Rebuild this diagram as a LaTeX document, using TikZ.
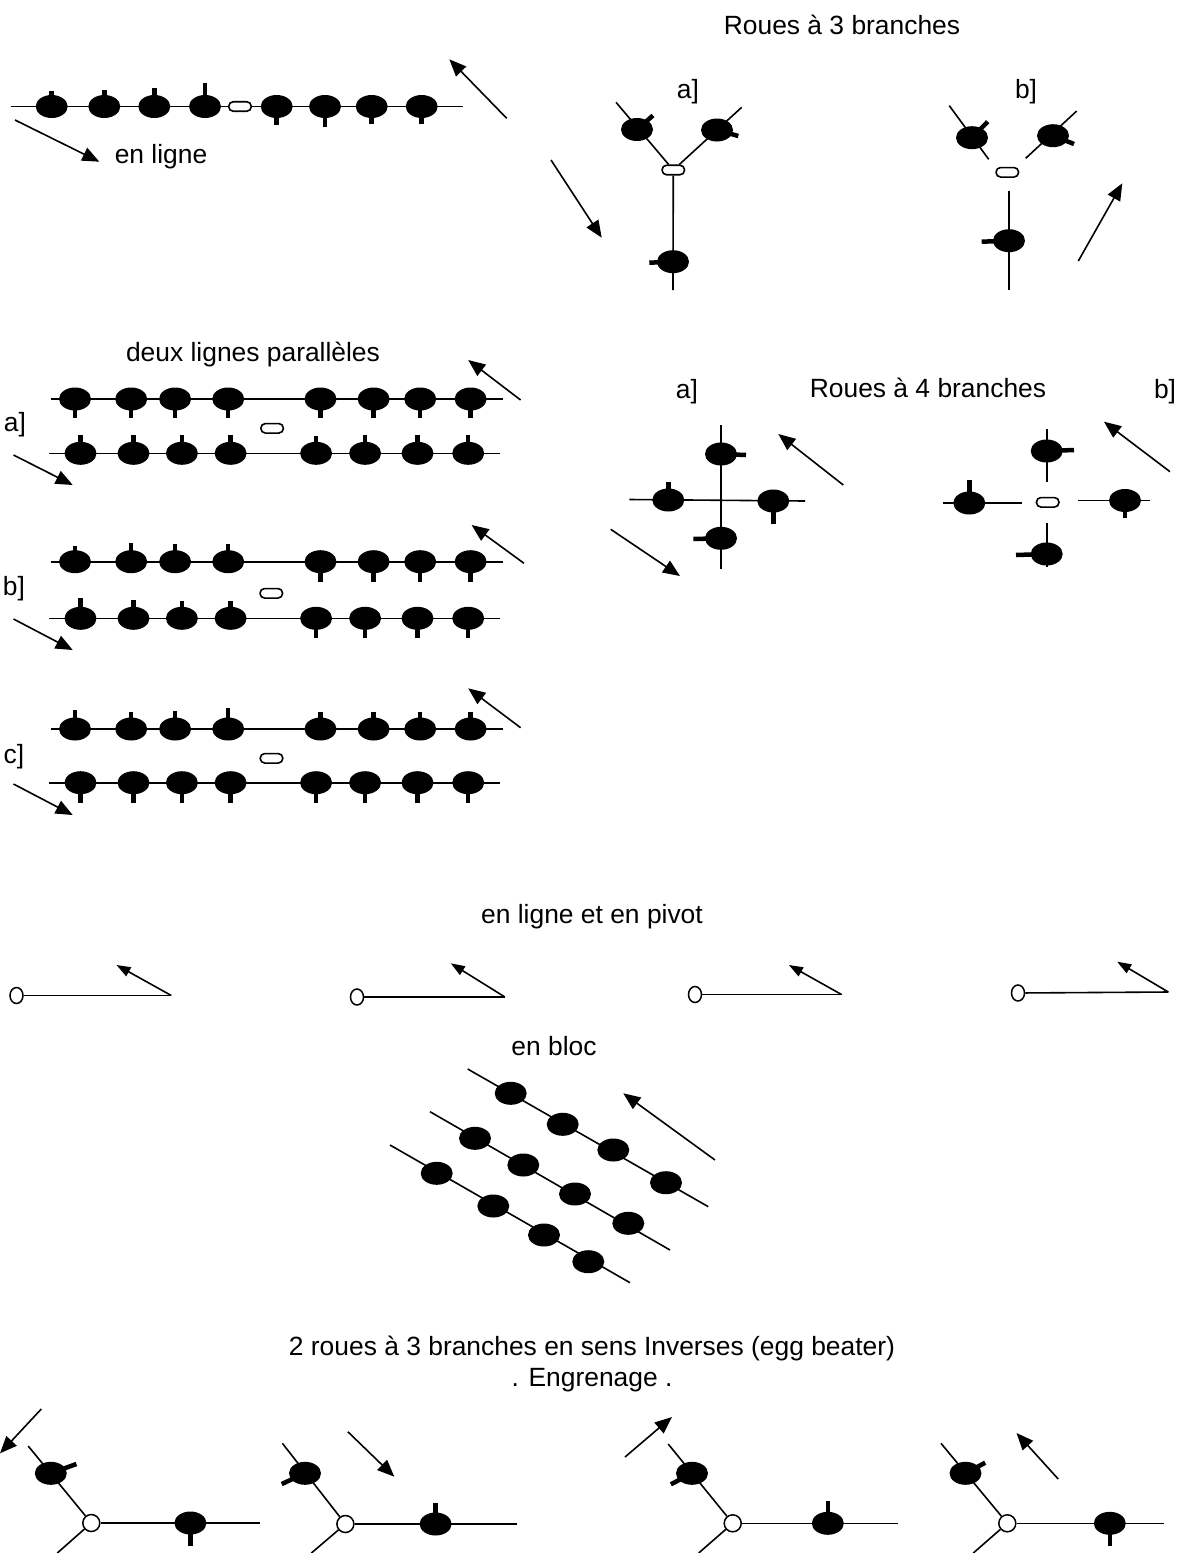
\documentclass[tikz,border=0pt]{standalone}
\usepackage{fontspec}
\setmainfont{Liberation Sans}
\usetikzlibrary{shapes.geometric,arrows.meta}
\pgfdeclarelayer{back}
\pgfdeclarelayer{bg}
\pgfsetlayers{back,bg,main}
\tikzset{
  wire/.style={line width=1.6pt},
  tick/.style={line width=4.5pt},
  bead/.style={ellipse, fill=black, minimum width=32pt, minimum height=23pt, inner sep=0pt},
  capsule/.style={rectangle, rounded corners=4.5pt, draw, line width=1.6pt, fill=white, minimum width=22.5pt, minimum height=9.5pt, inner sep=0pt},
  pivot/.style={ellipse, draw, line width=1.5pt, fill=white, minimum width=13pt, minimum height=16pt, inner sep=0pt},
  hub/.style={circle, draw, line width=1.5pt, fill=white, minimum size=17pt, inner sep=0pt},
  arr/.style={line width=1.6pt, -{Triangle[length=17pt,width=14pt]}},
  parr/.style={line width=1.6pt, -{Triangle[length=14pt,width=10pt]}},
  lbl/.style={font=\fontsize{26.4}{30}\selectfont, inner sep=0pt},
}
\newcommand\beadt[3]{%
  \node[bead] (#1) at (#2) {};
  \coordinate (#1-t) at (#3);
  \begin{pgfonlayer}{bg}\draw[tick] (#1.center) -- (#1-t);\end{pgfonlayer}%
}
\newcommand\prow[5]{%
  \coordinate (#1-L) at (#3,#2);
  \coordinate (#1-R) at (#4,#2);
  \begin{pgfonlayer}{bg}\draw[wire] (#1-L) -- (#1-R);\end{pgfonlayer}
  \foreach \bx/\bd [count=\k] in {#5} {\beadt{#1-\k}{\bx,#2}{\bx,{#2+(\bd)}}}%
}
\newcommand\dirarrow[4][arr]{%
  \coordinate (#2-s) at (#3);
  \coordinate (#2-e) at (#4);
  \draw[#1] (#2-s) -- (#2-e);%
}
\newcommand\wireseg[3]{%
  \coordinate (#1-a) at (#2);
  \coordinate (#1-b) at (#3);
  \begin{pgfonlayer}{bg}\draw[wire] (#1-a) -- (#1-b);\end{pgfonlayer}%
}
\begin{document}
\begin{tikzpicture}[x=1pt,y=-1pt]
\begin{pgfonlayer}{back}
\fill[white] (0,0) rectangle (1178,1553);
\end{pgfonlayer}
\useasboundingbox (0,0) rectangle (1178,1553);

% ---------- en ligne ----------
\wireseg{r}{11,106.5}{463,106.5}
\beadt{r1}{51.7,106.5}{51.7,91}
\beadt{r2}{104.3,106.5}{104.3,89.5}
\beadt{r3}{154.3,106.5}{154.3,87.5}
\beadt{r4}{205,106.5}{205,83}
\node[capsule] (rc) at (240,106.5) {};
\beadt{r5}{276.7,106.5}{276.7,125}
\beadt{r6}{325,106.5}{325,126.5}
\beadt{r7}{371.7,106.5}{371.7,124}
\beadt{r8}{421.7,106.5}{421.7,124}
\dirarrow{ar1}{506.7,118.3}{449.3,59.3}
\dirarrow{ar2}{15,120}{99.3,161.7}
\node[lbl] (t1) at (161,157) {en ligne};

% ---------- Roues a 3 branches ----------
\node[lbl] (t2) at (842,25) {Roues à 3 branches};
\node[lbl] (t3a) at (688,92) {a]};
\node[capsule] (ca) at (673.3,170) {};
\coordinate (ca-ul) at (616,102.3);
\coordinate (ca-ur) at (741.7,107.3);
\coordinate (ca-b) at (673,290);
\begin{pgfonlayer}{bg}
\draw[wire] (ca-ul) -- (ca);
\draw[wire] (ca-ur) -- (ca);
\draw[wire] (ca-b) -- (ca);
\end{pgfonlayer}
\beadt{ca1}{637,129.5}{653,115.5}
\beadt{ca2}{717,130}{738.3,136}
\beadt{ca3}{673,261.7}{649.3,262.7}
\dirarrow{ar3}{551,160}{601.7,237.7}

\node[lbl] (t3b) at (1026,92) {b]};
\node[capsule] (cb) at (1007.3,172.3) {};
\wireseg{cbul}{949.3,105.7}{988.7,159.3}
\wireseg{cbur}{1076.7,111}{1025.7,158.3}
\wireseg{cbb}{1009,190.7}{1009,290}
\beadt{cb1}{972,137.7}{987.7,121.7}
\beadt{cb2}{1053,135.7}{1074,144}
\beadt{cb3}{1009,240.7}{981.7,241.7}
\dirarrow{ar4}{1078.3,261}{1122.3,183.3}

% ---------- deux lignes paralleles ----------
\node[lbl] (t4) at (253,355) {deux lignes parallèles};
% a]
\node[lbl] (la) at (15,425) {a]};
\prow{pa1}{399}{50.7}{502.7}{75/19, 131.2/19, 175.1/19, 228.2/19, 320.5/19, 373.6/19, 420.2/19, 470.6/19}
\prow{pa2}{453.3}{49}{500.3}{80.5/-18, 133.5/-18, 181.9/-18, 230.6/-18, 316.1/-17, 365.1/-18, 417.5/-18, 468.2/-18}
\node[capsule] (pac) at (272.1,428.3) {};
\dirarrow{ar5}{520.6,400}{468.2,360}
\dirarrow{ar6}{13.5,455}{72.7,485}
% b]
\node[lbl] (lb) at (14,588.3) {b]};
\prow{pb1}{561.7}{50.7}{502.7}{75/-16, 131.2/-19, 175.1/-18, 228.2/-18, 320.5/20, 373.6/20, 420.2/20, 470.6/20}
\prow{pb2}{618.3}{49}{500.3}{80.5/-20, 133.5/-18, 181.9/-17, 230.6/-17, 316.1/20, 365.1/20, 417.5/20, 468.2/20}
\node[capsule] (pbc) at (271.3,593.3) {};
\dirarrow{ar7}{524,563.3}{471.6,525}
\dirarrow{ar8}{13.5,619}{72.7,650}
% c]
\node[lbl] (lc) at (14,757) {c]};
\prow{pc1}{729}{50.7}{502.7}{75/-19, 131.2/-17, 175.1/-18, 228.2/-21, 320.5/-17, 373.6/-17, 420.2/-17, 470.6/-17}
\prow{pc2}{782.7}{49}{500.3}{80.5/20, 133.5/20, 181.9/20, 230.6/20, 316.1/20, 365.1/20, 417.5/20, 468.2/20}
\node[capsule] (pcc) at (271.5,758.3) {};
\dirarrow{ar9}{520.6,727.7}{468.2,688.3}
\dirarrow{ar10}{13.5,784}{72.7,815}

% ---------- Roues a 4 branches ----------
\node[lbl] (t5) at (928,388) {Roues à 4 branches};
% a]
\node[lbl] (qla) at (687,392) {a]};
\wireseg{qav}{721,425}{721,569}
\wireseg{qah}{629.3,499.5}{805,501}
\beadt{qa1}{721,454}{746,455}
\beadt{qa2}{668.3,500}{668.3,482.3}
\beadt{qa3}{773.3,501}{773.3,524.3}
\beadt{qa4}{721,538.3}{693.3,539}
\dirarrow{ar11}{843.3,485}{778.3,434}
\dirarrow{ar12}{610.7,529.3}{680,576}
% b]
\node[lbl] (qlb) at (1165,392) {b]};
\node[capsule] (qbc) at (1047.7,502.3) {};
\wireseg{qbt}{1046.7,429.3}{1046.7,481.7}
\wireseg{qbl}{943.3,503}{1021.7,503}
\wireseg{qbr}{1078.3,500.5}{1150,500.5}
\wireseg{qbb}{1046.7,522.7}{1046.7,567.3}
\beadt{qb1}{1046.7,451}{1074,450}
\beadt{qb2}{969.3,503}{969.3,480}
\beadt{qb3}{1125,500.5}{1125,518.3}
\beadt{qb4}{1046.7,554}{1016,555}
\dirarrow{ar13}{1170,471.7}{1104,421.7}

% ---------- en ligne et en pivot ----------
\node[lbl] (t6) at (592,917) {en ligne et en pivot};
\node[pivot] (pv1) at (16.5,995.5) {};
\coordinate (pv1e) at (171.3,995.5);
\node[pivot] (pv2) at (357,997) {};
\coordinate (pv2e) at (504.9,997);
\node[pivot] (pv3) at (695,994.5) {};
\coordinate (pv3e) at (841.5,994.5);
\node[pivot] (pv4) at (1018,993) {};
\coordinate (pv4e) at (1168.3,992);
\begin{pgfonlayer}{bg}
\draw[wire] (pv1) -- (pv1e);
\draw[wire] (pv2) -- (pv2e);
\draw[wire] (pv3) -- (pv3e);
\draw[wire] (pv4) -- (pv4e);
\end{pgfonlayer}
\coordinate (pv1t) at (116.5,965);
\coordinate (pv2t) at (450.8,963.3);
\coordinate (pv3t) at (788.9,965);
\coordinate (pv4t) at (1117.2,961.7);
\draw[parr] (pv1e) -- (pv1t);
\draw[parr] (pv2e) -- (pv2t);
\draw[parr] (pv3e) -- (pv3t);
\draw[parr] (pv4e) -- (pv4t);

% ---------- en bloc ----------
\node[lbl] (t7) at (554,1046) {en bloc};
\wireseg{bl1}{467.7,1069}{708.3,1206.7}
\wireseg{bl2}{430,1111.7}{670,1250}
\wireseg{bl3}{390,1145}{630,1282.7}
\node[bead] (b11) at (510.7,1093.3) {};
\node[bead] (b12) at (562.7,1124.3) {};
\node[bead] (b13) at (613.3,1150) {};
\node[bead] (b14) at (666,1182.7) {};
\node[bead] (b21) at (475,1138.3) {};
\node[bead] (b22) at (523.3,1165) {};
\node[bead] (b23) at (575,1194) {};
\node[bead] (b24) at (628.3,1223.3) {};
\node[bead] (b31) at (436.7,1173.3) {};
\node[bead] (b32) at (493.3,1206) {};
\node[bead] (b33) at (544,1235) {};
\node[bead] (b34) at (588.3,1261.7) {};
\dirarrow{ar14}{715,1160}{623.3,1093.3}

% ---------- egg beater ----------
\node[lbl] (t8) at (592,1349) {2 roues à 3 branches en sens Inverses (egg beater)};
\node[lbl] (t9) at (592,1380) {. Engrenage .};
% unit 1
\node[hub] (h1) at (91.3,1523) {};
\coordinate (h1ul) at (28.2,1446);
\coordinate (h1ll) at (57.3,1553);
\coordinate (h1r) at (260,1523);
\begin{pgfonlayer}{bg}
\draw[wire] (h1ul) -- (h1);
\draw[wire] (h1ll) -- (h1);
\draw[wire] (h1) -- (h1r);
\end{pgfonlayer}
\beadt{e11}{50.8,1473.3}{76.4,1464}
\beadt{e12}{190.4,1523}{190.4,1546}
\dirarrow{ar15}{41.3,1409}{0,1453.3}
% unit 2
\node[hub] (h2) at (345.4,1524) {};
\coordinate (h2ul) at (282.4,1443.3);
\coordinate (h2ll) at (311.4,1553);
\coordinate (h2r) at (516.5,1524);
\begin{pgfonlayer}{bg}
\draw[wire] (h2ul) -- (h2);
\draw[wire] (h2ll) -- (h2);
\draw[wire] (h2) -- (h2r);
\end{pgfonlayer}
\beadt{e21}{305,1473.3}{281.7,1484}
\beadt{e22}{435.6,1524}{435.6,1502.7}
\dirarrow{ar16}{347.8,1431.7}{394.3,1476.7}
% unit 3
\node[hub] (h3) at (732.7,1523.3) {};
\coordinate (h3ul) at (668.2,1444);
\coordinate (h3ll) at (698.7,1553);
\coordinate (h3r) at (897.8,1523.3);
\begin{pgfonlayer}{bg}
\draw[wire] (h3ul) -- (h3);
\draw[wire] (h3ll) -- (h3);
\draw[wire] (h3) -- (h3r);
\end{pgfonlayer}
\beadt{e31}{692,1473.3}{670.8,1484.3}
\beadt{e32}{827.8,1523.3}{827.8,1500.7}
\dirarrow{ar17}{625,1457}{671.9,1417}
% unit 4
\node[hub] (h4) at (1007.3,1523.3) {};
\coordinate (h4ul) at (941,1443.3);
\coordinate (h4ll) at (973.3,1553);
\coordinate (h4r) at (1164,1523.3);
\begin{pgfonlayer}{bg}
\draw[wire] (h4ul) -- (h4);
\draw[wire] (h4ll) -- (h4);
\draw[wire] (h4) -- (h4r);
\end{pgfonlayer}
\beadt{e41}{965.5,1473.3}{985.2,1462.7}
\beadt{e42}{1109.8,1523.3}{1109.8,1546}
\dirarrow{ar18}{1058.2,1479}{1016.5,1433}
\end{tikzpicture}
\end{document}
